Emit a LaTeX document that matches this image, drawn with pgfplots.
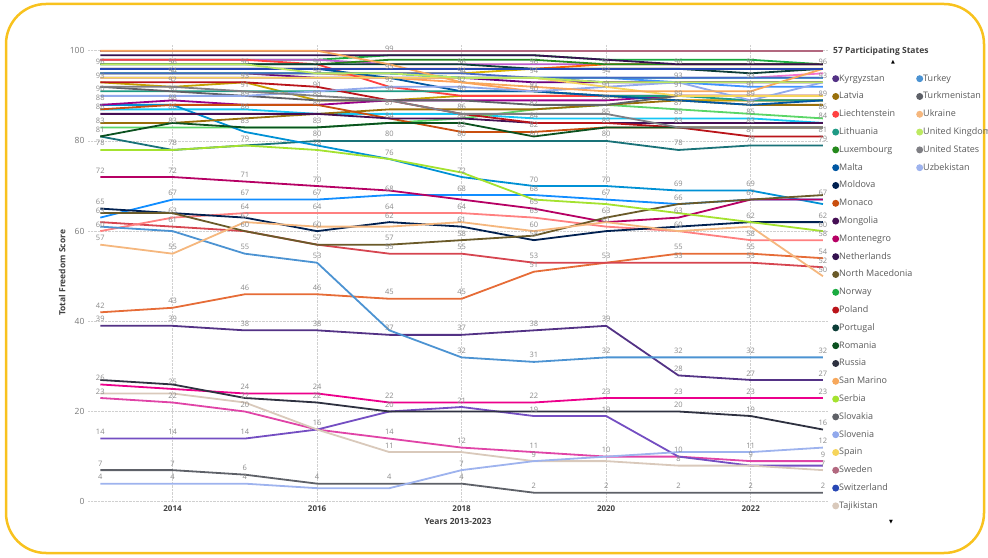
\documentclass[border=0pt]{standalone}
\usepackage{pgfplots}
\usepackage{pgfplotstable}
\pgfplotsset{compat=1.18}
\usepackage{fontspec}
\setmainfont{Open Sans}
\newfontfamily\symfont{DejaVu Sans}
\definecolor{c0}{HTML}{118DFF}\definecolor{c1}{HTML}{12239E}\definecolor{c2}{HTML}{E66C37}
\definecolor{c3}{HTML}{6B007B}\definecolor{c4}{HTML}{E044A7}\definecolor{c5}{HTML}{744EC2}
\definecolor{c6}{HTML}{D9B300}\definecolor{c7}{HTML}{D64550}\definecolor{c8}{HTML}{197278}
\definecolor{c9}{HTML}{1AAB40}\definecolor{c10}{HTML}{15C6F4}\definecolor{c11}{HTML}{4092FF}
\definecolor{c12}{HTML}{FFA058}\definecolor{c13}{HTML}{BE5DC9}\definecolor{c14}{HTML}{F472D0}
\definecolor{c15}{HTML}{B5A1FF}\definecolor{c16}{HTML}{C4A200}\definecolor{c17}{HTML}{FF8080}
\definecolor{c18}{HTML}{00DBBC}\definecolor{c19}{HTML}{5BD667}\definecolor{c20}{HTML}{0091D5}
\definecolor{c21}{HTML}{4668C5}\definecolor{c22}{HTML}{FF6300}\definecolor{c23}{HTML}{99008A}
\definecolor{c24}{HTML}{EC008C}\definecolor{c25}{HTML}{533285}\definecolor{c26}{HTML}{99700A}
\definecolor{c27}{HTML}{FF4141}\definecolor{c28}{HTML}{1F9A85}\definecolor{c29}{HTML}{25891C}
\definecolor{c30}{HTML}{0057A2}\definecolor{c31}{HTML}{002050}\definecolor{c32}{HTML}{C94F0F}
\definecolor{c33}{HTML}{450F54}\definecolor{c34}{HTML}{B60064}\definecolor{c35}{HTML}{34124F}
\definecolor{c36}{HTML}{6A5A29}\definecolor{c37}{HTML}{1AAB40}\definecolor{c38}{HTML}{BA141A}
\definecolor{c39}{HTML}{0C3D37}\definecolor{c40}{HTML}{0B511F}\definecolor{c41}{HTML}{2E3140}
\definecolor{c42}{HTML}{F7A85C}\definecolor{c43}{HTML}{A4E22F}\definecolor{c44}{HTML}{5F6167}
\definecolor{c45}{HTML}{91A9EC}\definecolor{c46}{HTML}{F6D55C}\definecolor{c47}{HTML}{B2687F}
\definecolor{c48}{HTML}{2747B4}\definecolor{c49}{HTML}{D9C9BB}\definecolor{c50}{HTML}{4C93D2}
\definecolor{c51}{HTML}{5E6168}\definecolor{c52}{HTML}{F5B77E}\definecolor{c53}{HTML}{BDE962}
\definecolor{c54}{HTML}{7F7F84}\definecolor{c55}{HTML}{9EB3EE}
\definecolor{bordery}{HTML}{F8C21E}
\definecolor{tickgrey}{HTML}{777777}
\definecolor{titlegrey}{HTML}{404040}
\definecolor{lblgrey}{HTML}{8A8A8A}
\definecolor{legendgrey}{HTML}{5A5A5A}
\definecolor{gridgrey}{HTML}{D0D0D0}

\pgfplotstableread{
yr   ALB ARM AZE BLR BIH GEO KAZ KGZ MDA MNE MKD RUS TJK TUR TKM UKR UZB
2013 63  42  23  14  62  60  26  39  65  72  64  27  24  61  7   57  4
2014 67  43  22  14  61  63  25  39  64  72  64  26  24  60  7   55  4
2015 67  46  20  14  60  64  24  38  63  71  60  23  22  55  6   62  4
2016 67  46  16  16  57  64  24  38  60  70  57  22  16  53  4   61  3
2017 68  45  14  20  55  64  22  37  62  69  57  20  11  38  4   61  3
2018 68  45  12  21  55  64  22  37  61  67  58  20  11  32  4   62  7
2019 68  51  11  19  53  63  22  38  58  65  59  20  9   31  2   60  9
2020 67  53  10  19  53  61  23  39  60  62  63  20  9   32  2   62  10
2021 66  55  10  10  53  60  23  28  61  63  66  20  8   32  2   60  11
2022 67  55  9   8   53  58  23  27  62  67  67  19  8   32  2   61  11
2023 67  54  9   8   52  58  23  27  62  67  68  16  7   32  2   50  12
}\lowtab

\pgfplotstableread{
yr   AND AUT BEL BGR CAN HRV CYP CZE DNK EST FIN FRA DEU GRC HUN ISL IRL ITA LVA LIE LTU LUX MLT MCO MNG NLD NOR POL PRT ROU SMR SRB SVK SVN ESP SWE CHE GBR USA
2013 95  95  95  81  98  87  94  95  98  94  100 93  95  83  88  95  96  88  84  98  91  97  96  87  86  99  100 93  97  81  100 78  92  90  94  100 96  97  92
2014 95  95  95  78  98  87  94  95  98  94  100 92  95  83  88  95  96  89  84  98  91  97  96  88  86  99  100 93  97  84  100 78  91  90  94  100 96  97  92
2015 95  95  95  79  98  87  94  95  98  94  100 93  95  83  82  95  96  88  85  98  91  97  96  88  86  99  100 93  97  83  100 79  90  90  94  100 96  97  91
2016 95  94  95  80  98  86  94  95  98  94  100 89  95  83  79  95  96  88  86  97  91  97  96  88  86  99  100 92  97  83  100 78  89  91  94  100 96  95  90
2017 95  94  95  80  99  86  94  94  97  94  100 89  95  84  76  95  96  89  87  92  91  98  94  85  85  99  100 89  97  84  97  76  89  92  94  100 96  95  89
2018 94  94  95  80  99  86  94  93  97  94  100 90  94  85  72  95  96  89  87  90  91  98  91  82  85  99  100 86  97  84  93  73  89  92  94  100 96  94  86
2019 94  93  96  80  99  85  94  91  97  94  100 90  94  87  70  94  96  89  87  90  91  98  91  82  84  99  100 84  96  81  92  67  88  91  94  100 96  94  86
2020 93  93  96  80  98  85  94  90  97  94  100 90  94  88  70  94  97  89  88  90  90  97  90  83  84  98  100 84  96  83  91  66  88  92  92  100 96  93  86
2021 93  93  96  78  98  85  93  89  97  94  100 89  94  87  69  94  97  90  89  90  90  97  89  83  84  97  100 83  96  83  91  64  90  93  90  100 96  93  83
2022 93  93  96  79  98  85  92  89  97  94  100 89  94  86  69  94  97  90  88  90  89  97  88  83  84  97  100 81  95  83  91  62  90  89  90  100 96  93  83
2023 93  93  96  79  97  84  92  89  97  95  100 89  94  85  66  94  97  90  88  90  89  97  89  83  84  97  100 81  96  83  96  60  90  93  90  100 96  93  83
}\uptab

\pgfplotsset{
  lbl/.style={nodes near coords, point meta=y,
    every node near coord/.style={font=\fontsize{7.5}{8}\selectfont, text=lblgrey, anchor=south, inner sep=0.5pt, yshift=2.5pt}},
}

\begin{document}
\begin{tikzpicture}[x=1pt,y=1pt]
\useasboundingbox (0,0) rectangle (988,557);
\draw[line width=2.5pt, color=bordery, rounded corners=40pt] (6,4) rectangle (984,553);
\begin{axis}[
  at={(88pt,55.3pt)}, anchor=south west,
  width=740pt, height=457.7pt, scale only axis,
  xmin=2012.83, xmax=2023.07, ymin=0, ymax=101.5,
  clip=false,
  axis line style={draw=none}, tick style={draw=none},
  xtick={2014,2016,2018,2020,2022},
  ytick={0,20,40,60,80,100},
  grid=major,
  major grid style={densely dotted, color=gridgrey, line width=0.8pt},
  /pgf/number format/1000 sep={},
  /pgf/number format/assume math mode=true,
  xticklabel style={font=\bfseries\fontsize{8}{10}\selectfont, text=titlegrey},
  yticklabel style={font=\fontsize{8.5}{10}\selectfont, text=tickgrey},
  xlabel={Years 2013-2023},
  ylabel={Total Freedom Score},
  xlabel style={at={(axis description cs:0.5,-0.044)}, anchor=center, font=\bfseries\fontsize{8.5}{10}\selectfont, text=titlegrey},
  ylabel style={at={(axis description cs:-0.035,0.5)}, anchor=center, font=\bfseries\fontsize{8.5}{10}\selectfont, text=titlegrey},
  every axis plot/.append style={line width=1.8pt, line join=round, mark=none},
  legend columns=2, legend cell align=left,
  legend image code/.code={\fill[#1, draw=none] (3.5pt,0pt) circle[radius=3.5pt];},
  legend style={draw=none, fill=none, inner sep=0pt, at={(axis description cs:1.0054,0.9345)}, anchor=north west,
    font=\fontsize{9}{10}\selectfont, text=legendgrey, row sep=8.8pt,
    nodes={inner sep=0pt, text height=7pt, text depth=2pt}},
]
% ---- series in legend (alphabetical) order ----
\addplot[forget plot, c0] table[x=yr,y=ALB] {\lowtab};
\addplot[forget plot, c1] table[x=yr,y=AND] {\uptab};
\addplot[forget plot, c2] table[x=yr,y=ARM] {\lowtab};
\addplot[forget plot, c3] table[x=yr,y=AUT] {\uptab};
\addplot[forget plot, c4] table[x=yr,y=AZE] {\lowtab};
\addplot[forget plot, c5] table[x=yr,y=BLR] {\lowtab};
\addplot[forget plot, c6] table[x=yr,y=BEL] {\uptab};
\addplot[forget plot, c7] table[x=yr,y=BIH] {\lowtab};
\addplot[forget plot, c8] table[x=yr,y=BGR] {\uptab};
\addplot[forget plot, c9] table[x=yr,y=CAN] {\uptab};
\addplot[forget plot, c10] table[x=yr,y=HRV] {\uptab};
\addplot[forget plot, c11] table[x=yr,y=CYP] {\uptab};
\addplot[forget plot, c12] table[x=yr,y=CZE] {\uptab};
\addplot[forget plot, c13] table[x=yr,y=DNK] {\uptab};
\addplot[forget plot, c14] table[x=yr,y=EST] {\uptab};
\addplot[forget plot, c15] table[x=yr,y=FIN] {\uptab};
\addplot[forget plot, c16] table[x=yr,y=FRA] {\uptab};
\addplot[forget plot, c17] table[x=yr,y=GEO] {\lowtab};
\addplot[forget plot, c18] table[x=yr,y=DEU] {\uptab};
\addplot[forget plot, c19] table[x=yr,y=GRC] {\uptab};
\addplot[forget plot, c20] table[x=yr,y=HUN] {\uptab};
\addplot[forget plot, c21] table[x=yr,y=ISL] {\uptab};
\addplot[forget plot, c22] table[x=yr,y=IRL] {\uptab};
\addplot[forget plot, c23] table[x=yr,y=ITA] {\uptab};
\addplot[forget plot, c24] table[x=yr,y=KAZ] {\lowtab};
\addplot[forget plot, c25] table[x=yr,y=KGZ] {\lowtab};
\addplot[forget plot, c26] table[x=yr,y=LVA] {\uptab};
\addplot[forget plot, c27] table[x=yr,y=LIE] {\uptab};
\addplot[forget plot, c28] table[x=yr,y=LTU] {\uptab};
\addplot[forget plot, c29] table[x=yr,y=LUX] {\uptab};
\addplot[forget plot, c30] table[x=yr,y=MLT] {\uptab};
\addplot[forget plot, c31] table[x=yr,y=MDA] {\lowtab};
\addplot[forget plot, c32] table[x=yr,y=MCO] {\uptab};
\addplot[forget plot, c33] table[x=yr,y=MNG] {\uptab};
\addplot[forget plot, c34] table[x=yr,y=MNE] {\lowtab};
\addplot[forget plot, c35] table[x=yr,y=NLD] {\uptab};
\addplot[forget plot, c36] table[x=yr,y=MKD] {\lowtab};
\addplot[forget plot, c37] table[x=yr,y=NOR] {\uptab};
\addplot[forget plot, c38] table[x=yr,y=POL] {\uptab};
\addplot[forget plot, c39] table[x=yr,y=PRT] {\uptab};
\addplot[forget plot, c40] table[x=yr,y=ROU] {\uptab};
\addplot[forget plot, c41] table[x=yr,y=RUS] {\lowtab};
\addplot[forget plot, c43] table[x=yr,y=SRB] {\uptab};
\addplot[forget plot, c44] table[x=yr,y=SVK] {\uptab};
\addplot[forget plot, c45] table[x=yr,y=SVN] {\uptab};
\addplot[forget plot, c46] table[x=yr,y=ESP] {\uptab};
\addplot[forget plot, c47] table[x=yr,y=SWE] {\uptab};
\addplot[forget plot, c42] table[x=yr,y=SMR] {\uptab};
\addplot[forget plot, c48] table[x=yr,y=CHE] {\uptab};
\addplot[forget plot, c49] table[x=yr,y=TJK] {\lowtab};
\addplot[forget plot, c50] table[x=yr,y=TUR] {\lowtab};
\addplot[forget plot, c51] table[x=yr,y=TKM] {\lowtab};
\addplot[forget plot, c52] table[x=yr,y=UKR] {\lowtab};
\addplot[forget plot, c53] table[x=yr,y=GBR] {\uptab};
\addplot[forget plot, c54] table[x=yr,y=USA] {\uptab};
\addplot[forget plot, c55] table[x=yr,y=UZB] {\lowtab};
% ---- data labels that the chart shows (overlapping ones are hidden, as in the chart) ----
\addplot[forget plot, draw=none, lbl] coordinates {
(2013,96)(2013,93)(2013,90)(2013,88)(2013,86)(2013,83)(2013,81)(2013,78)
(2013,72)(2013,65)(2013,63)(2013,60)(2013,57)(2013,42)(2013,39)(2013,26)(2013,23)(2013,14)(2013,7)(2013,4)
(2014,96)(2014,94)(2014,92)(2014,90)(2014,88)(2014,86)(2014,83)(2014,78)
(2014,72)(2014,67)(2014,63)(2014,61)(2014,55)(2014,43)(2014,39)(2014,25)(2014,22)(2014,14)(2014,7)(2014,4)
(2015,96)(2015,93)(2015,91)(2015,89)(2015,86)(2015,83)(2015,79)
(2015,71)(2015,67)(2015,64)(2015,62)(2015,60)(2015,55)(2015,46)(2015,38)(2015,24)(2015,22)(2015,20)(2015,14)(2015,6)(2015,4)
(2016,96)(2016,94)(2016,91)(2016,89)(2016,87)(2016,83)(2016,80)(2016,78)
(2016,70)(2016,67)(2016,64)(2016,60)(2016,57)(2016,53)(2016,46)(2016,38)(2016,24)(2016,22)(2016,16)(2016,4)
(2017,99)(2017,95)(2017,92)(2017,90)(2017,87)(2017,84)(2017,80)(2017,76)
(2017,68)(2017,64)(2017,62)(2017,57)(2017,55)(2017,45)(2017,37)(2017,22)(2017,20)(2017,14)(2017,11)(2017,4)
(2018,96)(2018,94)(2018,92)(2018,90)(2018,86)(2018,84)(2018,82)(2018,80)(2018,72)
(2018,68)(2018,64)(2018,61)(2018,58)(2018,55)(2018,45)(2018,37)(2018,32)(2018,21)(2018,12)(2018,7)(2018,4)
(2019,96)(2019,94)(2019,91)(2019,90)(2019,87)(2019,84)(2019,82)(2019,80)(2019,70)
(2019,68)(2019,65)(2019,63)(2019,60)(2019,58)(2019,53)(2019,51)(2019,38)(2019,31)(2019,22)(2019,19)(2019,11)(2019,9)(2019,2)
(2020,96)(2020,94)(2020,91)(2020,88)(2020,85)(2020,83)(2020,80)(2020,70)
(2020,67)(2020,63)(2020,61)(2020,53)(2020,39)(2020,32)(2020,23)(2020,19)(2020,10)(2020,2)
(2021,96)(2021,93)(2021,91)(2021,89)(2021,87)(2021,85)(2021,83)(2021,78)(2021,69)
(2021,66)(2021,63)(2021,60)(2021,55)(2021,53)(2021,32)(2021,28)(2021,23)(2021,20)(2021,10)(2021,8)(2021,2)
(2022,96)(2022,93)(2022,91)(2022,89)(2022,87)(2022,85)(2022,83)(2022,81)(2022,79)(2022,69)
(2022,67)(2022,62)(2022,58)(2022,55)(2022,53)(2022,32)(2022,27)(2022,23)(2022,19)(2022,11)(2022,9)(2022,2)
(2023,96)(2023,93)(2023,89)(2023,86)(2023,84)(2023,81)(2023,79)
(2023,67)(2023,62)(2023,60)(2023,58)(2023,54)(2023,52)(2023,50)(2023,32)(2023,27)(2023,23)(2023,16)(2023,12)(2023,9)(2023,7)(2023,2)
};
% ---- legend (visible page of the scrolling legend) ----
\addlegendimage{c25}\addlegendentry{\makebox[77pt][l]{Kyrgyzstan}}
\addlegendimage{c50}\addlegendentry{Turkey}
\addlegendimage{c26}\addlegendentry{\makebox[77pt][l]{Latvia}}
\addlegendimage{c51}\addlegendentry{Turkmenistan}
\addlegendimage{c27}\addlegendentry{\makebox[77pt][l]{Liechtenstein}}
\addlegendimage{c52}\addlegendentry{Ukraine}
\addlegendimage{c28}\addlegendentry{\makebox[77pt][l]{Lithuania}}
\addlegendimage{c53}\addlegendentry{United Kingdom}
\addlegendimage{c29}\addlegendentry{\makebox[77pt][l]{Luxembourg}}
\addlegendimage{c54}\addlegendentry{United States}
\addlegendimage{c30}\addlegendentry{\makebox[77pt][l]{Malta}}
\addlegendimage{c55}\addlegendentry{Uzbekistan}
\addlegendimage{c31}\addlegendentry{\makebox[77pt][l]{Moldova}}
\addlegendimage{empty legend}\addlegendentry{}
\addlegendimage{c32}\addlegendentry{\makebox[77pt][l]{Monaco}}
\addlegendimage{empty legend}\addlegendentry{}
\addlegendimage{c33}\addlegendentry{\makebox[77pt][l]{Mongolia}}
\addlegendimage{empty legend}\addlegendentry{}
\addlegendimage{c34}\addlegendentry{\makebox[77pt][l]{Montenegro}}
\addlegendimage{empty legend}\addlegendentry{}
\addlegendimage{c35}\addlegendentry{\makebox[77pt][l]{Netherlands}}
\addlegendimage{empty legend}\addlegendentry{}
\addlegendimage{c36}\addlegendentry{\makebox[77pt][l]{North Macedonia}}
\addlegendimage{empty legend}\addlegendentry{}
\addlegendimage{c37}\addlegendentry{\makebox[77pt][l]{Norway}}
\addlegendimage{empty legend}\addlegendentry{}
\addlegendimage{c38}\addlegendentry{\makebox[77pt][l]{Poland}}
\addlegendimage{empty legend}\addlegendentry{}
\addlegendimage{c39}\addlegendentry{\makebox[77pt][l]{Portugal}}
\addlegendimage{empty legend}\addlegendentry{}
\addlegendimage{c40}\addlegendentry{\makebox[77pt][l]{Romania}}
\addlegendimage{empty legend}\addlegendentry{}
\addlegendimage{c41}\addlegendentry{\makebox[77pt][l]{Russia}}
\addlegendimage{empty legend}\addlegendentry{}
\addlegendimage{c42}\addlegendentry{\makebox[77pt][l]{San Marino}}
\addlegendimage{empty legend}\addlegendentry{}
\addlegendimage{c43}\addlegendentry{\makebox[77pt][l]{Serbia}}
\addlegendimage{empty legend}\addlegendentry{}
\addlegendimage{c44}\addlegendentry{\makebox[77pt][l]{Slovakia}}
\addlegendimage{empty legend}\addlegendentry{}
\addlegendimage{c45}\addlegendentry{\makebox[77pt][l]{Slovenia}}
\addlegendimage{empty legend}\addlegendentry{}
\addlegendimage{c46}\addlegendentry{\makebox[77pt][l]{Spain}}
\addlegendimage{empty legend}\addlegendentry{}
\addlegendimage{c47}\addlegendentry{\makebox[77pt][l]{Sweden}}
\addlegendimage{empty legend}\addlegendentry{}
\addlegendimage{c48}\addlegendentry{\makebox[77pt][l]{Switzerland}}
\addlegendimage{empty legend}\addlegendentry{}
\addlegendimage{c49}\addlegendentry{\makebox[77pt][l]{Tajikistan}}
\end{axis}
\node[anchor=west, font=\bfseries\fontsize{8.5}{10}\selectfont, text=titlegrey, inner sep=0pt] at (833,506) {57 Participating States};
\node[font=\symfont\fontsize{5}{6}\selectfont, text=black, inner sep=0pt] at (893,495) {▲};
\node[font=\symfont\fontsize{5}{6}\selectfont, text=black, inner sep=0pt] at (891,35) {▼};
\end{tikzpicture}
\end{document}
